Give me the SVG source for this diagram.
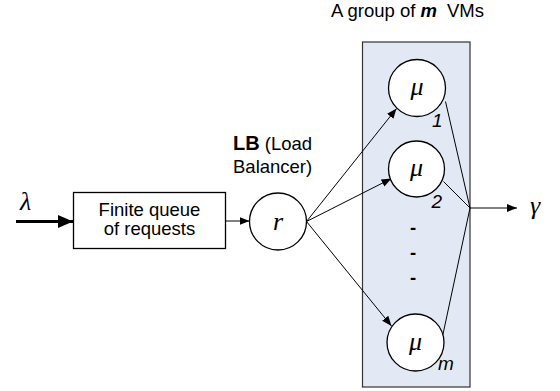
<svg xmlns="http://www.w3.org/2000/svg" width="560" height="391" viewBox="0 0 560 391">
  <defs>
    <style>
      .lbl { font-family: "Liberation Sans", Arial, sans-serif; font-size: 18.5px; fill: #000; }
      .sym { font-family: "Liberation Serif", "Times New Roman", serif; font-style: italic; font-size: 26px; fill: #000; }
      .idx { font-family: "Liberation Sans", Arial, sans-serif; font-style: italic; font-size: 19px; fill: #000; }
      .node { fill: #fff; stroke: #000; stroke-width: 1.3; }
      .wire { stroke: #000; stroke-width: 1; fill: none; }
    </style>
    <marker id="arr" viewBox="0 0 10 8" refX="10" refY="4" markerWidth="10" markerHeight="8" markerUnits="userSpaceOnUse" orient="auto">
      <path d="M0,0 L10,4 L0,8 Z" fill="#000"/>
    </marker>
    <marker id="arrBig" viewBox="0 0 15 13" refX="15" refY="6.5" markerWidth="15" markerHeight="13" markerUnits="userSpaceOnUse" orient="auto">
      <path d="M0,0 L15,6.5 L0,13 Z" fill="#000"/>
    </marker>
  </defs>

  <!-- VM pool container -->
  <g id="vm-group">
    <rect x="362.5" y="42" width="107.5" height="345" fill="#E3E9F4" stroke="#333" stroke-width="1.2"/>
    <text class="lbl" x="331" y="17">A group of <tspan font-weight="bold" font-style="italic">m</tspan><tspan dx="10">VMs</tspan></text>
  </g>

  <!-- connectors -->
  <g id="connectors">
    <line x1="16" y1="221.5" x2="73" y2="221.5" stroke="#000" stroke-width="2.8" marker-end="url(#arrBig)"/>
    <line class="wire" x1="226" y1="221" x2="249.5" y2="221" marker-end="url(#arr)"/>
    <line class="wire" x1="306.5" y1="221.5" x2="396.5" y2="108.5" marker-end="url(#arr)"/>
    <line class="wire" x1="306.5" y1="221.5" x2="391.5" y2="178.5" marker-end="url(#arr)"/>
    <line class="wire" x1="306.5" y1="221.5" x2="391.5" y2="326" marker-end="url(#arr)"/>
    <line class="wire" x1="445.5" y1="101.5" x2="470" y2="208"/>
    <line class="wire" x1="443.5" y1="181.5" x2="470" y2="208"/>
    <line class="wire" x1="442.5" y1="336.5" x2="470" y2="208"/>
    <line class="wire" x1="470" y1="208" x2="517" y2="208" marker-end="url(#arr)"/>
  </g>

  <!-- arrival rate -->
  <g id="arrival">
    <text class="sym" x="20" y="210">λ</text>
  </g>

  <!-- request queue -->
  <g id="queue">
    <rect x="73.5" y="192.5" width="152" height="56" fill="#fff" stroke="#000" stroke-width="1.3"/>
    <text class="lbl" x="149.5" y="215.5" text-anchor="middle">Finite queue</text>
    <text class="lbl" x="149.5" y="235" text-anchor="middle">of requests</text>
  </g>

  <!-- load balancer -->
  <g id="lb">
    <circle class="node" cx="278" cy="221.5" r="28.5"/>
    <text class="sym" x="278" y="230" text-anchor="middle">r</text>
    <text class="lbl" x="233" y="150"><tspan font-weight="bold" font-size="20px">LB</tspan> (Load</text>
    <text class="lbl" x="233" y="173">Balancer)</text>
  </g>

  <!-- VM servers -->
  <g id="vm1">
    <circle class="node" cx="417" cy="88" r="28.5"/>
    <text class="sym" x="417" y="95" text-anchor="middle">μ</text>
    <text class="idx" x="432" y="127">1</text>
  </g>
  <g id="vm2">
    <circle class="node" cx="416.5" cy="169" r="28"/>
    <text class="sym" x="416.5" y="176" text-anchor="middle">μ</text>
    <text class="idx" x="431.5" y="208">2</text>
  </g>
  <g id="ellipsis">
    <text class="lbl" x="413" y="233.5" font-weight="bold" text-anchor="middle">-</text>
    <text class="lbl" x="413" y="258.5" font-weight="bold" text-anchor="middle">-</text>
    <text class="lbl" x="413" y="283.5" font-weight="bold" text-anchor="middle">-</text>
  </g>
  <g id="vmm">
    <circle class="node" cx="415.5" cy="342.5" r="28.5"/>
    <text class="sym" x="415.5" y="349.5" text-anchor="middle">μ</text>
    <text class="idx" x="438" y="370">m</text>
  </g>

  <!-- throughput -->
  <g id="output">
    <text class="sym" x="530" y="214">γ</text>
  </g>
</svg>
